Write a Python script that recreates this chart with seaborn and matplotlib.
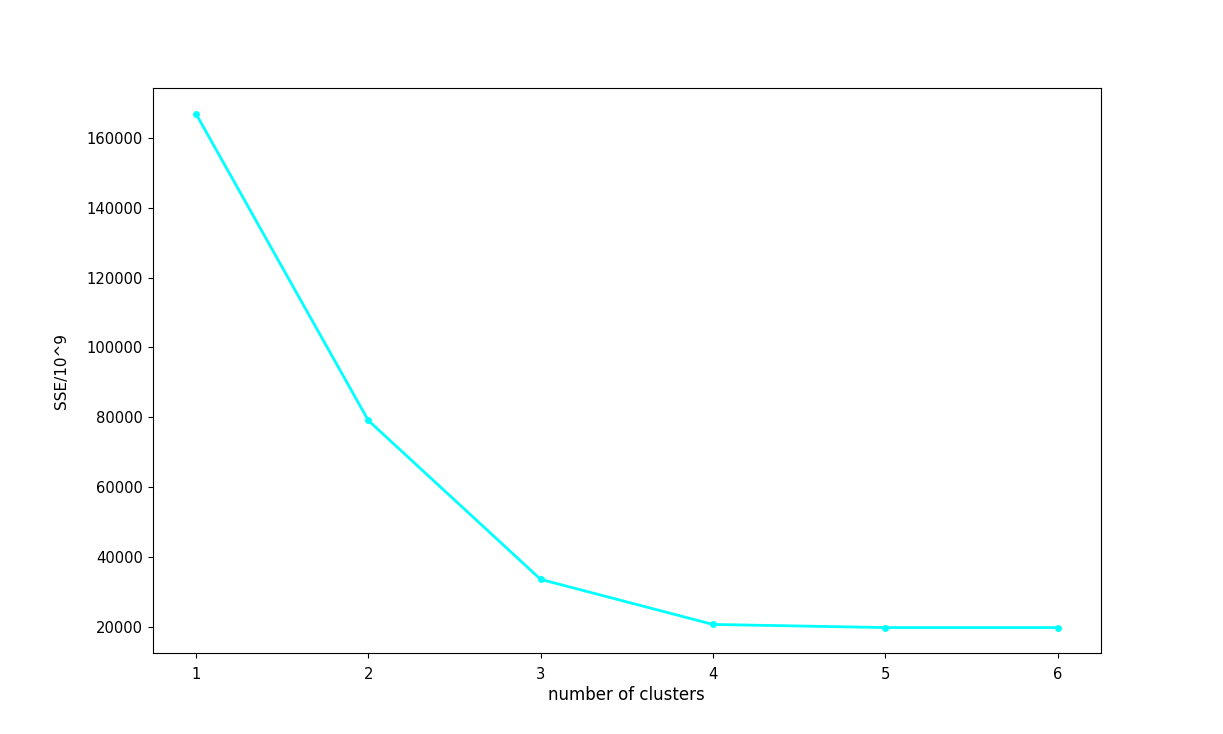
import matplotlib
matplotlib.use("Agg")
import matplotlib.pyplot as plt
import seaborn as sns
import pandas as pd

clusters = [1, 2, 3, 4, 5, 6]
sse = [166900, 79100, 33600, 20700, 19800, 19800]

df = pd.DataFrame({"clusters": clusters, "sse": sse})

fig, ax = plt.subplots(figsize=(12.23, 7.34), dpi=100)
sns.lineplot(data=df, x="clusters", y="sse", ax=ax, color="#00FFFF",
             marker="o", markersize=5, markeredgewidth=0, linewidth=2)
ax.set_xlabel("number of clusters", fontsize=12, labelpad=3)
ax.set_ylabel("SSE/10^9", fontsize=11, labelpad=13)
ax.tick_params(labelsize=10.6)
ax.tick_params(axis="x", pad=6.5)
fig.savefig("out.png", dpi=100)
